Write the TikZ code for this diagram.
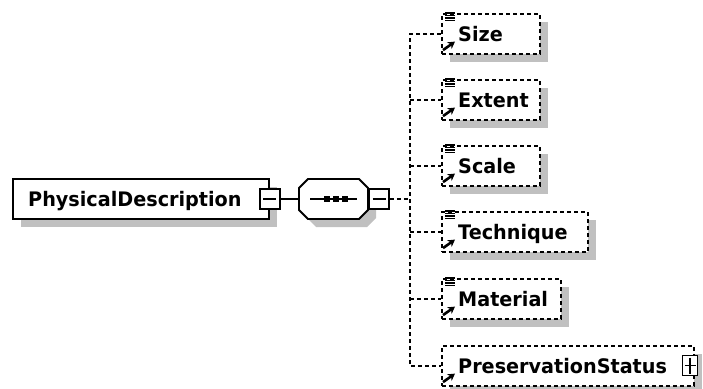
\documentclass[tikz,border=0pt]{standalone}
\usepackage{fontspec}
\setmainfont{DejaVu Sans}
\newfontfamily\lblfont[FakeStretch=0.96]{DejaVu Sans Bold}
\usetikzlibrary{shadows,arrows.meta,calc}
\definecolor{shadowgray}{RGB}{192,192,192}
\begin{document}
\begin{tikzpicture}[x=1pt,y=-1pt,
  boxline/.style={line width=1.8pt},
  elem/.style={draw, boxline, fill=white, inner sep=0pt,
    general shadow={fill=shadowgray, shadow xshift=8pt, shadow yshift=-8pt}},
  optelem/.style={elem, dash pattern=on 4pt off 3pt},
  conn/.style={boxline, dash pattern=on 4pt off 3pt},
  lbl/.style={anchor=base west, inner sep=0pt, font=\lblfont\fontsize{20}{20}\selectfont},
  togglebox/.style={draw, boxline, fill=white, inner sep=0pt},
  reficon/.style={line width=2.6pt, -{Stealth[length=7pt,width=8pt]}},
  icons/.pic={
    \foreach \yy in {0,2.4,4.8,7.2}
      \draw[line width=1.4pt] (4,\yy) -- (14,\yy);
    \draw[reficon] (2,37) -- (14,28.5);
  }]
\useasboundingbox (0,0) rectangle (703,388);

% root element
\node[elem, minimum width=256pt, minimum height=40pt, anchor=west] (pd) at (12,199) {};
\node[lbl] (pdtext) at (28,206) {PhysicalDescription};
\node[togglebox, minimum width=20pt, minimum height=20pt] (pdminus) at (pd.east) {};
\draw[boxline] ($(pdminus.center)+(-6.5,0)$) -- ($(pdminus.center)+(6.5,0)$);

% sequence compositor
\node[minimum width=69pt, minimum height=40pt, inner sep=0pt] (seq) at (333.5,199) {};
\fill[shadowgray] (307,196) -- (316,187) -- (367,187) -- (376,196) -- (376,218) -- (367,227) -- (316,227) -- (307,218) -- cycle;
\draw[boxline, fill=white] (299,188) -- (308,179) -- (359,179) -- (368,188) -- (368,210) -- (359,219) -- (308,219) -- (299,210) -- cycle;
\draw[boxline] (310,199) -- (357,199);
\foreach \xx in {327,336,345}
  \fill (\xx-3,196) rectangle (\xx+3,202);
\node[togglebox, minimum width=20pt, minimum height=20pt] (seqminus) at (379,199) {};
\draw[boxline] ($(seqminus.center)+(-6.5,0)$) -- ($(seqminus.center)+(6.5,0)$);

% child elements
\node[optelem, minimum width=98pt, minimum height=40pt, anchor=west] (size) at (441,34) {};
\node[optelem, minimum width=98pt, minimum height=40pt, anchor=west] (ext) at (441,100) {};
\node[optelem, minimum width=98pt, minimum height=40pt, anchor=west] (scale) at (441,166) {};
\node[optelem, minimum width=146pt, minimum height=40pt, anchor=west] (tech) at (441,232) {};
\node[optelem, minimum width=119pt, minimum height=40pt, anchor=west] (mat) at (441,299) {};
\node[optelem, minimum width=252pt, minimum height=40pt, anchor=west] (ps) at (441,366) {};

\node[lbl] (sizetext) at (458,41.5) {Size};
\node[lbl] (exttext) at (458,107.5) {Extent};
\node[lbl] (scaletext) at (458,173.5) {Scale};
\node[lbl] (techtext) at (458,239.5) {Technique};
\node[lbl] (mattext) at (458,306.5) {Material};
\node[lbl] (pstext) at (458,373.5) {PreservationStatus};

\foreach \n in {size,ext,scale,tech,mat}
  \pic at (\n.north west) {icons};
\draw[reficon] ($(ps.north west)+(2,37)$) -- ($(ps.north west)+(14,28.5)$);

\node[togglebox, minimum width=15pt, minimum height=20pt] (psplus) at (690,365.5) {};
\draw[boxline] ($(psplus.center)+(-5.5,0)$) -- ($(psplus.center)+(5.5,0)$);
\draw[boxline] ($(psplus.center)+(0,-8)$) -- ($(psplus.center)+(0,8)$);

% connectors
\coordinate (jn) at (410,199);
\draw[boxline] (pdminus.east) -- (seq.west);
\draw[conn] (seqminus.east) -- (jn);
\draw[conn] (size.west) -- (size.west -| jn) -- (ps.west -| jn) -- (ps.west);
\foreach \n in {ext,scale,tech,mat}
  \draw[conn] (\n.west -| jn) -- (\n.west);
\end{tikzpicture}
\end{document}
